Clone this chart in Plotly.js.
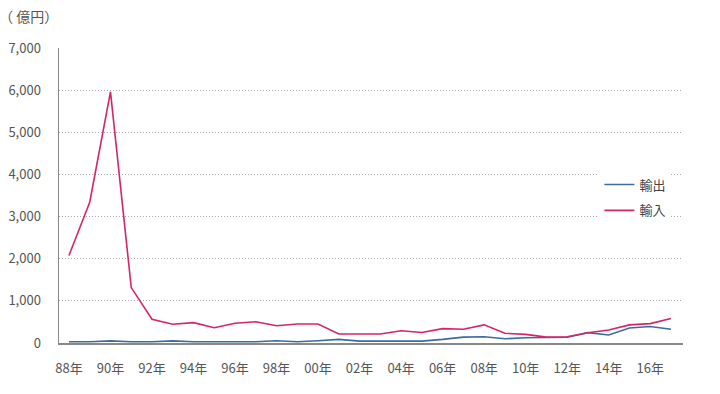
<!DOCTYPE html>
<html>
<head>
<meta charset="utf-8">
<script src="https://cdn.plot.ly/plotly-3.0.1.min.js"></script>
<style>html,body{margin:0;padding:0;background:#fff;}#chart{width:720px;height:394px;}</style>
</head>
<body>
<div id="chart"></div>
<script>
const years = ['88','89','90','91','92','93','94','95','96','97','98','99','00','01','02','03','04','05','06','07','08','09','10','11','12','13','14','15','16','17'];
const exportVals = [30,30,50,30,30,50,30,30,25,30,55,30,55,85,45,45,45,45,85,140,150,100,125,125,135,245,190,355,390,325];
const importVals = [2075,3340,5960,1315,563,444,483,364,467,505,410,450,450,215,215,215,290,250,340,325,430,230,205,140,150,245,310,430,460,580];
const tickYears = ['88','90','92','94','96','98','00','02','04','06','08','10','12','14','16'];
const tickLabels = tickYears.map(y => y + '年');

const font = '"Noto Sans CJK JP", "Noto Sans", sans-serif';
const traces = [
  {x: years, y: exportVals, name: '輸出', type: 'scatter', mode: 'lines',
   line: {color: '#3b6c9e', width: 1.6}, legendgroup: 'a'},
  {x: years, y: importVals, name: '輸入', type: 'scatter', mode: 'lines',
   line: {color: '#d6246a', width: 1.6}, legendgroup: 'b'}
];
const layout = {
  width: 720, height: 394,
  margin: {l: 59, r: 37, t: 48, b: 51},
  paper_bgcolor: '#fff', plot_bgcolor: '#fff',
  font: {family: font, size: 13, color: '#555'},
  showlegend: true,
  legend: {x: 0.866, y: 0.588, xanchor: 'left', yanchor: 'top', bgcolor: 'rgba(255,255,255,1)',
           font: {family: font, size: 13, color: '#444'}, tracegroupgap: 6, traceorder: 'grouped'},
  xaxis: {type: 'category', categoryorder: 'array', categoryarray: years,
          range: [-0.48, 29.58], tickmode: 'array', tickvals: tickYears, ticktext: tickLabels,
          showgrid: false, zeroline: false, showline: true, linecolor: '#888', linewidth: 2,
          ticks: '', ticklen: 0, ticklabelstandoff: 12, tickfont: {family: font, size: 13, color: '#555'}},
  yaxis: {range: [0, 7000], tickvals: [0,1000,2000,3000,4000,5000,6000,7000],
          ticktext: ['0','1,000','2,000','3,000','4,000','5,000','6,000','7,000'],
          showgrid: true, gridcolor: '#aaa', griddash: '1px,2px', gridwidth: 1,
          zeroline: false, showline: true, linecolor: '#888', linewidth: 1.5,
          ticks: '', ticklen: 0, ticklabelstandoff: 14, tickfont: {family: font, size: 13, color: '#555'}},
  annotations: [{text: '（ 億円）', xref: 'paper', yref: 'paper', x: -0.1, y: 1.0, xanchor: 'left', yanchor: 'bottom',
                 yshift: 20, showarrow: false, font: {family: font, size: 14, color: '#555'}}]
};
Plotly.newPlot('chart', traces, layout, {displayModeBar: false, staticPlot: true});
</script>
</body>
</html>
